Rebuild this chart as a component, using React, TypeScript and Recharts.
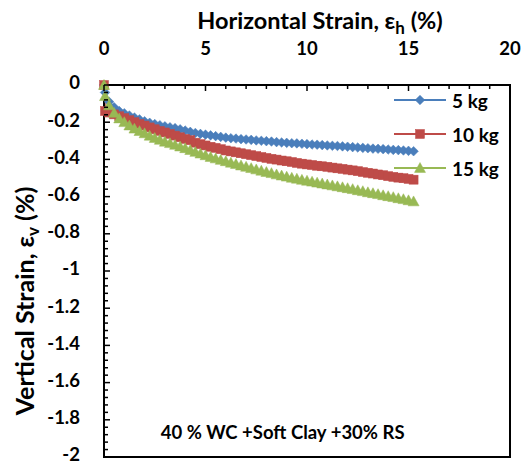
import React from "react";
import { LineChart, Line, XAxis, YAxis, ReferenceArea, ReferenceDot, Legend, Label } from "recharts";

// horizontal strain (%) shared by all three loads
const hStrain = [
  0, 0.05, 0.25, 0.5, 0.75, 1, 1.25, 1.5, 1.75, 2, 2.25, 2.5, 2.75, 3, 3.25, 3.5, 3.75, 4,
  4.25, 4.5, 4.75, 5, 5.25, 5.5, 5.75, 6, 6.25, 6.5, 6.75, 7, 7.25, 7.5, 7.75, 8,
  8.25, 8.5, 8.75, 9, 9.25, 9.5, 9.75, 10, 10.25, 10.5, 10.75, 11, 11.25, 11.5, 11.75, 12,
  12.25, 12.5, 12.75, 13, 13.25, 13.5, 13.75, 14, 14.25, 14.5, 14.75, 15, 15.25,
];

// vertical strain (%)
const v5kg = [
  0, -0.04, -0.09, -0.12, -0.14, -0.152, -0.164, -0.175, -0.185, -0.195, -0.203, -0.21, -0.216, -0.222,
  -0.227, -0.232, -0.238, -0.245, -0.252, -0.258, -0.263, -0.267, -0.271, -0.275, -0.279, -0.283,
  -0.286, -0.288, -0.291, -0.293, -0.295, -0.298, -0.3, -0.302, -0.304, -0.307, -0.309, -0.311,
  -0.313, -0.314, -0.316, -0.318, -0.32, -0.321, -0.323, -0.325, -0.327, -0.328, -0.33, -0.332,
  -0.334, -0.336, -0.338, -0.34, -0.342, -0.343, -0.345, -0.347, -0.349, -0.35, -0.352, -0.354, -0.356,
];
const v10kg = [
  0, -0.14, -0.148, -0.158, -0.168, -0.178, -0.189, -0.2, -0.209, -0.218, -0.228, -0.238, -0.247, -0.255,
  -0.263, -0.272, -0.281, -0.29, -0.297, -0.31, -0.318, -0.325, -0.332, -0.338, -0.345, -0.352,
  -0.357, -0.362, -0.367, -0.372, -0.377, -0.382, -0.387, -0.392, -0.397, -0.401, -0.406, -0.41,
  -0.414, -0.419, -0.423, -0.427, -0.43, -0.434, -0.437, -0.44, -0.444, -0.448, -0.451, -0.455,
  -0.459, -0.463, -0.468, -0.472, -0.476, -0.481, -0.485, -0.49, -0.494, -0.498, -0.501, -0.505, -0.509,
];
const v15kg = [
  0, -0.06, -0.11, -0.15, -0.18, -0.2, -0.218, -0.235, -0.248, -0.26, -0.273, -0.285, -0.295, -0.305,
  -0.313, -0.322, -0.331, -0.34, -0.35, -0.36, -0.369, -0.378, -0.387, -0.395, -0.403, -0.41,
  -0.418, -0.425, -0.433, -0.44, -0.447, -0.454, -0.461, -0.468, -0.474, -0.481, -0.487, -0.493,
  -0.499, -0.504, -0.51, -0.515, -0.52, -0.525, -0.53, -0.535, -0.54, -0.545, -0.55, -0.555,
  -0.56, -0.566, -0.571, -0.577, -0.582, -0.587, -0.593, -0.598, -0.603, -0.609, -0.614, -0.62, -0.626,
];

const seriesNames = ["5 kg", "10 kg", "15 kg"];
const xTicks = [0, 1, 2, 3, 4, 5, 6, 7, 8, 9, 10, 11, 12, 13, 14, 15, 16, 17, 18, 19, 20];
const yTicks = Array.from({ length: 51 }, (_, i) => -Math.round(i * 4) / 100);
const note = "40 % WC +Soft Clay +30% RS";

const data = hStrain.map((h, i) => ({ h, s5: v5kg[i], s10: v10kg[i], s15: v15kg[i] }));

const FONT = "Lato, 'Open Sans', sans-serif";
const BLUE = "#4A7EBB";
const RED = "#BE4B48";
const GREEN = "#98B954";

function Marker({ kind, cx, cy, color }: { kind: string; cx: number; cy: number; color: string }) {
  if (kind === "diamond") {
    const r = 4.8;
    return <polygon points={`${cx},${cy - r} ${cx + r},${cy} ${cx},${cy + r} ${cx - r},${cy}`} fill={color} stroke={color} strokeWidth={0.5} />;
  }
  if (kind === "square") {
    const r = 4.5;
    return <rect x={cx - r} y={cy - r} width={2 * r} height={2 * r} fill={color} stroke={color} strokeWidth={0.5} />;
  }
  const r = 5.5;
  return <polygon points={`${cx},${cy - r} ${cx + r},${cy + r * 0.8} ${cx - r},${cy + r * 0.8}`} fill={color} stroke={color} strokeWidth={0.5} />;
}

const dotFor = (kind: string, color: string) => (p: any) => (
  <Marker key={`${kind}-${p.index}`} kind={kind} cx={p.cx} cy={p.cy} color={color} />
);

function XTick({ x, y, payload }: any) {
  const v = payload.value;
  const major = v % 5 === 0;
  return (
    <g>
      <line x1={x} y1={y} x2={x} y2={y + (major ? 6 : 4)} stroke="#000" strokeWidth={1.5} />
      {major && (
        <text x={x} y={y - 36} dy="0.35em" textAnchor="middle" fontFamily={FONT} fontWeight={700} fontSize={18.5} fill="#000">
          {v}
        </text>
      )}
    </g>
  );
}

function YTick({ x, y, payload }: any) {
  const v = payload.value;
  const major = Math.abs(Math.round(v * 5) - v * 5) < 1e-6;
  return (
    <g>
      <line x1={x} y1={y} x2={x + (major ? 6 : 4)} y2={y} stroke="#000" strokeWidth={1.5} />
      {major && (
        <text x={x - 24} y={y - 2} dy="0.35em" textAnchor="end" fontFamily={FONT} fontWeight={700} fontSize={18.5} fill="#000">
          {String(Math.round(v * 10) / 10)}
        </text>
      )}
    </g>
  );
}

function XTitle({ viewBox }: any) {
  const cx = viewBox.x + viewBox.width / 2 + 13;
  return (
    <text x={cx} y={29} textAnchor="middle" fontFamily={FONT} fontWeight={700} fontSize={23.5} fill="#000">
      Horizontal Strain, ε<tspan fontSize={17} dy={5}>h</tspan>
      <tspan dy={-5}> (%)</tspan>
    </text>
  );
}

function YTitle({ viewBox }: any) {
  const cy = viewBox.y + viewBox.height / 2 + 30;
  return (
    <text x={25} y={cy} transform={`rotate(-90 25 ${cy})`} dy="0.35em" textAnchor="middle" fontFamily={FONT} fontWeight={700} fontSize={25} fill="#000">
      Vertical Strain, ε<tspan fontSize={17} dy={5}>v</tspan>
      <tspan dy={-5}> (%)</tspan>
    </text>
  );
}

const legendItems = [
  { name: seriesNames[0], color: BLUE, kind: "diamond" },
  { name: seriesNames[1], color: RED, kind: "square" },
  { name: seriesNames[2], color: GREEN, kind: "triangle" },
];

function LegendBox() {
  return (
    <div style={{ fontFamily: FONT, fontWeight: 700, fontSize: 19 }}>
      {legendItems.map((it) => (
        <div key={it.name} style={{ display: "flex", alignItems: "center", height: 34 }}>
          <svg width={56} height={20}>
            <line x1={2} y1={10} x2={54} y2={10} stroke={it.color} strokeWidth={2} />
            <Marker kind={it.kind} cx={28} cy={10} color={it.color} />
          </svg>
          <span style={{ marginLeft: 4 }}>{it.name}</span>
        </div>
      ))}
    </div>
  );
}

export default function App() {
  return (
    <div style={{ position: "absolute", left: 0, top: 0, background: "#fff" }}>
      <LineChart width={525} height={464} data={data} margin={{ top: 0, right: 15, bottom: 7, left: 0 }}>
        <ReferenceArea x1={0} x2={20} y1={-2} y2={0} fill="none" stroke="#000" strokeWidth={2} />
        <XAxis
          type="number"
          dataKey="h"
          orientation="top"
          domain={[0, 20]}
          ticks={xTicks}
          interval={0}
          height={85}
          tickSize={0}
          tickMargin={0}
          tickLine={false}
          axisLine={{ stroke: "#000", strokeWidth: 2 }}
          tick={<XTick />}
        >
          <Label content={<XTitle />} />
        </XAxis>
        <YAxis
          type="number"
          domain={[-2, 0]}
          ticks={yTicks}
          interval={0}
          width={104}
          tickSize={0}
          tickMargin={0}
          tickLine={false}
          axisLine={{ stroke: "#000", strokeWidth: 2 }}
          tick={<YTick />}
        >
          <Label content={<YTitle />} />
        </YAxis>
        <Line dataKey="s5" name={seriesNames[0]} stroke={BLUE} strokeWidth={2} dot={dotFor("diamond", BLUE)} isAnimationActive={false} />
        <Line dataKey="s10" name={seriesNames[1]} stroke={RED} strokeWidth={2} dot={dotFor("square", RED)} isAnimationActive={false} />
        <Line dataKey="s15" name={seriesNames[2]} stroke={GREEN} strokeWidth={2} dot={dotFor("triangle", GREEN)} isAnimationActive={false} />
        <ReferenceDot
          x={8.8}
          y={-1.866}
          r={0}
          label={{ value: note, position: "center", fill: "#000", fontSize: 18.5, fontWeight: 700, fontFamily: FONT }}
        />
        <Legend
          layout="vertical"
          align="center"
          verticalAlign="middle"
          content={<LegendBox />}
          wrapperStyle={{ top: 83, left: 392, width: 130 }}
        />
      </LineChart>
    </div>
  );
}
